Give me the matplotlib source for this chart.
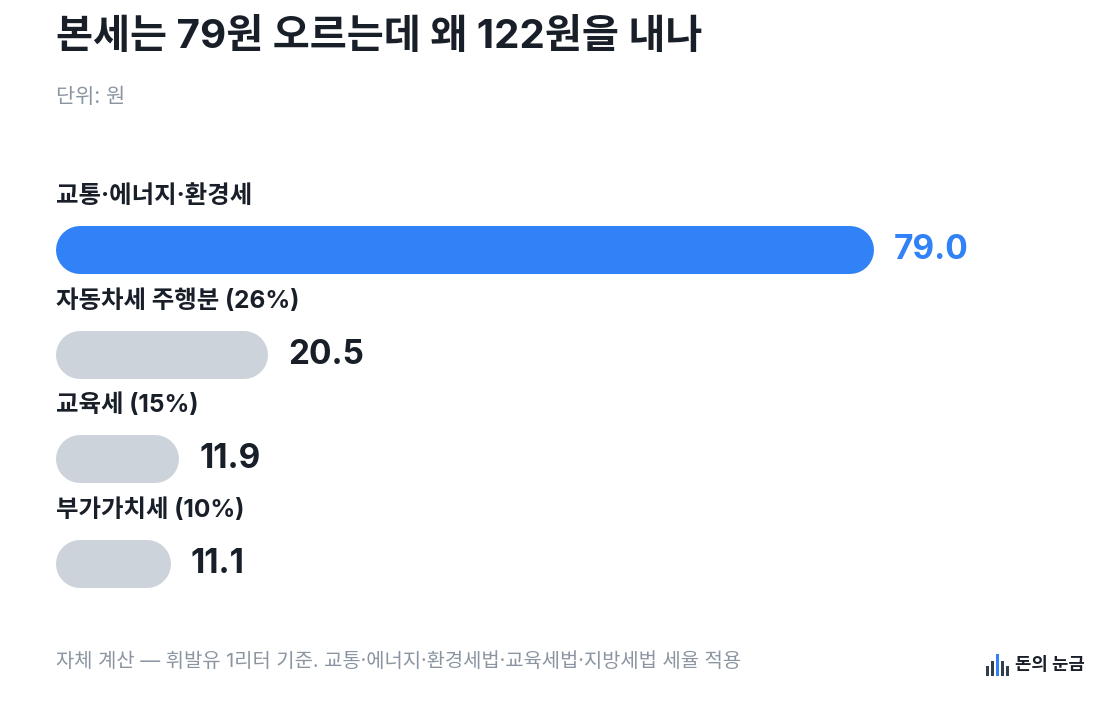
import matplotlib.pyplot as plt
from matplotlib.patches import Rectangle

plt.rcParams['font.family'] = ['Inter', 'Noto Sans CJK KR', 'DejaVu Sans']

# data
labels = ['교통·에너지·환경세', '자동차세 주행분 (26%)', '교육세 (15%)', '부가가치세 (10%)']
values = [79.0, 20.5, 11.9, 11.1]
colors = ['#3182f6', '#cdd3db', '#cdd3db', '#cdd3db']
value_colors = ['#3182f6', '#191f28', '#191f28', '#191f28']

title = '본세는 79원 오르는데 왜 122원을 내나'
unit = '단위: 원'
note = '자체 계산 — 휘발유 1리터 기준. 교통·에너지·환경세법·교육세법·지방세법 세율 적용'
brand = '돈의 눈금'

W, H = 1120, 704
fig = plt.figure(figsize=(W / 100, H / 100), dpi=100)
fig.patch.set_facecolor('white')

# axes in pixel layout: x from 56px, 10.35 px per unit
ax_left, ax_right = 56, 1091
ax_top, ax_bot = 170, 640
ax = fig.add_axes([ax_left / W, 1 - ax_bot / H, (ax_right - ax_left) / W, (ax_bot - ax_top) / H])
ax.set_xlim(0, 100)
step = 104.67
ax.set_ylim((ax_bot - 250) / step, (ax_top - 250) / step)
ax.axis('off')

px_per_unit = (ax_right - ax_left) / 100
bar_h = 48  # px
r = bar_h / 2 / px_per_unit
lw = bar_h * 72 / 100

for i, (lab, v, c, vc) in enumerate(zip(labels, values, colors, value_colors)):
    ax.plot([r, v - r], [i, i], color=c, lw=lw, solid_capstyle='round')
    ax.text(0, i - 0.515, lab, ha='left', va='center', fontsize=17.6,
            fontweight='bold', color='#191f28')
    ax.text(v + 20 / px_per_unit, i, f'{v:.1f}', ha='left', va='center',
            fontsize=24, fontweight='bold', color=vc)

fig.text(56 / W, 1 - 37 / H, title, ha='left', va='center', fontsize=29,
         fontweight='bold', color='#191f28')
fig.text(56 / W, 1 - 97 / H, unit, ha='left', va='center', fontsize=15,
         color='#8b95a1')
fig.text(56 / W, 1 - 662 / H, note, ha='left', va='center', fontsize=14.3,
         color='#8b95a1')

# brand mark
icon_x = [986, 991, 996, 1001, 1006]
icon_h = [10, 15, 22, 15, 10]
for k, (xx, hh) in enumerate(zip(icon_x, icon_h)):
    col = '#3182f6' if k == 2 else '#333d4b'
    fig.add_artist(Rectangle((xx / W, 1 - 676 / H), 2.7 / W, hh / H,
                             transform=fig.transFigure, color=col, lw=0))
fig.text(1015 / W, 1 - 665 / H, brand, ha='left', va='center', fontsize=12.8,
         fontweight='bold', color='#191f28')

fig.savefig('out.png', dpi=100, facecolor='white')
